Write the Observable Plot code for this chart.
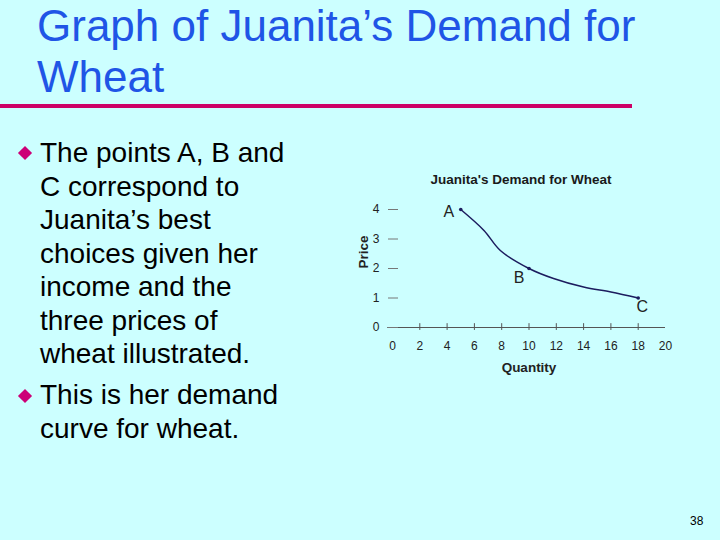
<!DOCTYPE html>
<html><head><meta charset="utf-8">
<script src="https://cdn.jsdelivr.net/npm/d3@7"></script>
<script src="https://cdn.jsdelivr.net/npm/@observablehq/plot@0.6"></script>
<style>
html,body{margin:0;padding:0;}
body{width:720px;height:540px;background:#ccffff;position:relative;overflow:hidden;font-family:"Liberation Sans",Arial,sans-serif;}
#title{position:absolute;left:37px;top:0px;font-size:44px;line-height:51px;color:#1f55e6;margin:0;font-weight:normal;}
#rule{position:absolute;left:0;top:104px;width:632px;height:4px;background:#cc0066;}
.bul{position:absolute;left:40px;font-size:28px;line-height:33.5px;color:#000;margin:0;}
.dia{position:absolute;width:10px;height:10px;background:#cc0077;transform:rotate(45deg);}
#ctitle{position:absolute;left:380px;width:282px;top:172px;text-align:center;font-weight:bold;font-size:13.5px;color:#1a1a1a;}
#chart{position:absolute;left:340px;top:195px;}
#pg{position:absolute;left:690px;top:514px;font-size:12px;color:#000;}
</style></head>
<body>
<div id="title">Graph of Juanita’s Demand for<br>Wheat</div>
<div id="rule"></div>
<div class="dia" style="left:20px;top:148px"></div>
<p class="bul" style="top:136px">The points A, B and<br>C correspond to<br>Juanita’s best<br>choices given her<br>income and the<br>three prices of<br>wheat illustrated.</p>
<div class="dia" style="left:20px;top:391px"></div>
<p class="bul" style="top:378px">This is her demand<br>curve for wheat.</p>
<div id="ctitle">Juanita's Demand for Wheat</div>
<div id="chart"></div>
<div id="pg">38</div>
<script>
const quantity = [5, 6.7, 7.9, 10, 11.8, 14, 16, 18];
const price = [4, 3.29, 2.61, 2, 1.66, 1.37, 1.2, 1];
const pointLabels = ["A", "B", "C"];
const pointQuantity = [5, 10, 18];
const pointPrice = [4, 2, 1];
const xTicks = [0, 2, 4, 6, 8, 10, 12, 14, 16, 18, 20];
const xTickMarks = [2, 4, 6, 8, 10, 12, 14, 16, 18];
const yTicks = [0, 1, 2, 3, 4];

const curve = quantity.map((q, i) => ({q, p: price[i]}));
const pts = pointLabels.map((l, i) => ({l, q: pointQuantity[i], p: pointPrice[i]}));
const labelOffsets = {A: [-12, 2], B: [-10, 9], C: [4, 9]};

const plot = Plot.plot({
  width: 340, height: 180,
  marginLeft: 52, marginRight: 15, marginTop: 14, marginBottom: 48,
  style: {background: "transparent", fontFamily: "Liberation Sans, Arial, sans-serif", color: "#333"},
  x: {domain: [0, 20]},
  y: {domain: [0, 4]},
  marks: [
    Plot.ruleY([0], {x1: -0.35, x2: 20, stroke: "#555", strokeWidth: 1}),
    Plot.ruleX(xTickMarks, {x: d => d, y1: -0.1, y2: 0.13, stroke: "#555"}),
    Plot.axisX({ticks: xTicks, tickFormat: "d", tickSize: 0, tickPadding: 14, fontSize: 12, label: null, fill: "#222"}),
    Plot.axisY({ticks: yTicks, tickFormat: "d", tickSize: 10, dx: 6, tickPadding: 9, fontSize: 12, label: null, stroke: "#777", fill: "#222"}),
    Plot.text(["Quantity"], {frameAnchor: "bottom", dy: 44, fontWeight: "bold", fontSize: 13.5, fill: "#222"}),
    Plot.text(["Price"], {frameAnchor: "left", dx: -29, rotate: -90, fontWeight: "bold", fontSize: 13.5, fill: "#222"}),
    Plot.line(curve, {x: "q", y: "p", curve: "catmull-rom", stroke: "#1c1c5e", strokeWidth: 1.5}),
    Plot.dot(pts, {x: "q", y: "p", r: 1.8, fill: "#1c1c5e"}),
    ...pointLabels.map(l => Plot.text(pts.filter(d => d.l === l), {
      x: "q", y: "p", text: "l", dx: labelOffsets[l][0], dy: labelOffsets[l][1], fontSize: 16, fill: "#222"
    }))
  ]
});
document.getElementById("chart").appendChild(plot);
</script>
</body></html>
